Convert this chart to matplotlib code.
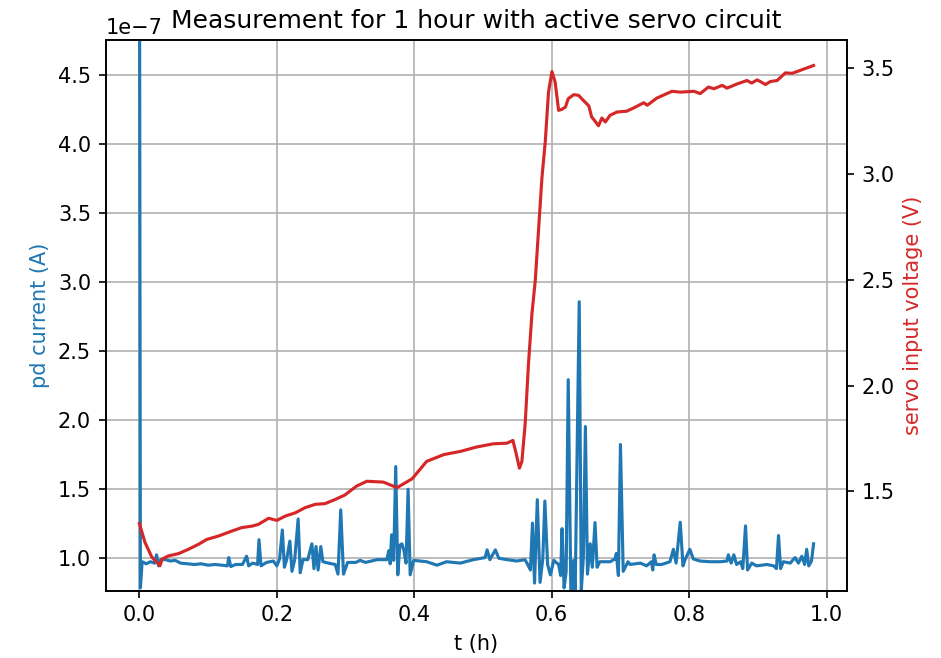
import numpy as np
import matplotlib
matplotlib.use("Agg")
import matplotlib.pyplot as plt

# photodiode current (in units of 1e-7 A) vs time (h)
t_pd = [0.000, 0.0015, 0.004, 0.010, 0.016, 0.022, 0.025, 0.028, 0.031, 0.038,
        0.045, 0.052, 0.060, 0.070, 0.080, 0.090, 0.100, 0.110, 0.120, 0.128,
        0.130, 0.133, 0.140, 0.150, 0.156, 0.159, 0.165, 0.172, 0.174, 0.177,
        0.185, 0.195, 0.200, 0.204, 0.208, 0.211, 0.214, 0.219, 0.222, 0.226,
        0.231, 0.234, 0.238, 0.245, 0.251, 0.254, 0.257, 0.260, 0.264, 0.267,
        0.275, 0.285, 0.289, 0.293, 0.297, 0.303, 0.315, 0.321, 0.329, 0.346,
        0.360, 0.363, 0.365, 0.367, 0.370, 0.373, 0.376, 0.379, 0.382, 0.385,
        0.388, 0.391, 0.394, 0.399, 0.418, 0.433, 0.447, 0.467, 0.486, 0.503,
        0.506, 0.510, 0.518, 0.523, 0.535, 0.549, 0.561, 0.564, 0.569, 0.572,
        0.575, 0.579, 0.583, 0.587, 0.590, 0.594, 0.598, 0.603, 0.610, 0.613,
        0.615, 0.618, 0.621, 0.624, 0.628, 0.632, 0.634, 0.640, 0.643, 0.646,
        0.649, 0.652, 0.656, 0.659, 0.663, 0.666, 0.670, 0.685, 0.692, 0.694,
        0.697, 0.700, 0.704, 0.711, 0.714, 0.729, 0.738, 0.745, 0.747, 0.749,
        0.752, 0.760, 0.772, 0.777, 0.781, 0.787, 0.791, 0.794, 0.801, 0.806,
        0.816, 0.830, 0.845, 0.855, 0.857, 0.861, 0.865, 0.869, 0.875, 0.878,
        0.882, 0.885, 0.891, 0.898, 0.913, 0.923, 0.927, 0.930, 0.933, 0.937,
        0.947, 0.954, 0.959, 0.964, 0.968, 0.971, 0.974, 0.978, 0.981]
pd_e7 = [6.00, 0.78, 0.97, 0.955, 0.97, 0.96, 1.02, 0.94, 0.985, 0.985,
         0.975, 0.98, 0.96, 0.955, 0.95, 0.955, 0.945, 0.95, 0.945, 0.94,
         1.00, 0.935, 0.95, 0.95, 1.01, 0.94, 0.96, 0.95, 1.13, 0.94,
         0.965, 0.975, 0.94, 0.99, 1.20, 0.93, 0.98, 1.12, 0.90, 0.985,
         1.28, 0.89, 0.985, 0.985, 1.10, 0.92, 1.08, 0.91, 1.08, 0.97,
         0.96, 0.95, 0.88, 1.346, 0.88, 0.965, 0.965, 0.98, 0.965, 0.985,
         0.985, 1.05, 0.955, 1.165, 0.98, 1.66, 0.875, 1.09, 1.10, 1.05,
         0.96, 1.496, 0.875, 0.98, 0.97, 0.945, 0.97, 0.96, 0.985, 1.00,
         1.056, 0.985, 1.056, 0.995, 0.985, 0.975, 0.985, 0.96, 0.91, 1.25,
         0.815, 1.42, 0.82, 0.99, 1.41, 0.95, 0.875, 0.98, 0.95, 0.87,
         1.21, 0.78, 0.90, 2.29, 0.70, 0.98, 0.72, 2.855, 0.76, 1.00,
         1.95, 0.88, 1.10, 0.93, 1.254, 0.93, 0.97, 0.97, 0.99, 1.03,
         0.87, 1.82, 0.90, 0.97, 0.95, 0.96, 0.94, 0.97, 0.91, 1.02,
         0.95, 0.95, 0.97, 1.06, 0.96, 1.256, 0.94, 0.985, 1.06, 0.99,
         0.975, 0.97, 0.97, 0.975, 1.02, 0.96, 1.02, 0.95, 0.97, 0.92,
         1.23, 0.91, 0.96, 0.94, 0.95, 0.94, 0.92, 1.16, 0.92, 0.97,
         0.96, 1.00, 0.96, 1.01, 0.95, 1.06, 0.94, 0.975, 1.10]

# servo input voltage (V) vs time (h)
t_servo = [0.000, 0.008, 0.018, 0.028, 0.030, 0.033, 0.042, 0.057, 0.071, 0.086,
           0.098, 0.115, 0.134, 0.149, 0.164, 0.173, 0.188, 0.200, 0.212, 0.227,
           0.241, 0.256, 0.270, 0.285, 0.299, 0.316, 0.331, 0.355, 0.375, 0.397,
           0.418, 0.443, 0.467, 0.491, 0.515, 0.535, 0.5435, 0.548, 0.553, 0.5566,
           0.5614, 0.5662, 0.5712, 0.576, 0.5857, 0.5906, 0.5953, 0.6003, 0.605, 0.610,
           0.615, 0.620, 0.624, 0.632, 0.639, 0.646, 0.654, 0.658, 0.663, 0.668,
           0.673, 0.678, 0.685, 0.695, 0.709, 0.719, 0.734, 0.739, 0.753, 0.775,
           0.787, 0.807, 0.816, 0.828, 0.836, 0.848, 0.855, 0.870, 0.884, 0.891,
           0.899, 0.911, 0.918, 0.928, 0.940, 0.950, 0.981]
servo_v = [1.348, 1.26, 1.19, 1.156, 1.149, 1.18, 1.195, 1.206, 1.226, 1.25,
           1.273, 1.289, 1.312, 1.329, 1.336, 1.344, 1.373, 1.363, 1.383, 1.399,
           1.423, 1.439, 1.442, 1.462, 1.483, 1.525, 1.548, 1.544, 1.518, 1.56,
           1.642, 1.674, 1.689, 1.71, 1.725, 1.728, 1.741, 1.682, 1.61, 1.642,
           1.822, 2.104, 2.339, 2.495, 2.98, 3.153, 3.387, 3.484, 3.434, 3.301,
           3.306, 3.317, 3.356, 3.375, 3.372, 3.348, 3.322, 3.27, 3.25, 3.228,
           3.265, 3.246, 3.278, 3.293, 3.297, 3.312, 3.337, 3.325, 3.359, 3.391,
           3.387, 3.391, 3.38, 3.411, 3.403, 3.419, 3.406, 3.426, 3.442, 3.43,
           3.445, 3.423, 3.437, 3.442, 3.478, 3.476, 3.513]

fig = plt.figure(figsize=(941 / 150, 658 / 150), dpi=150)
ax1 = fig.add_axes([0.1123, 0.1023, 0.7881, 0.8362])

ax1.plot(t_pd, np.array(pd_e7) * 1e-7, color="tab:blue")
ax1.set_xlabel("t (h)")
ax1.set_ylabel("pd current (A)", color="tab:blue")
ax1.set_ylim(0.76e-7, 4.75e-7)
ax1.grid(True)

ax2 = ax1.twinx()
ax2.plot(t_servo, servo_v, color="tab:red")
ax2.set_ylabel("servo input voltage (V)", color="tab:red")

ax1.set_title("Measurement for 1 hour with active servo circuit")
fig.savefig("out.png", dpi=150)
